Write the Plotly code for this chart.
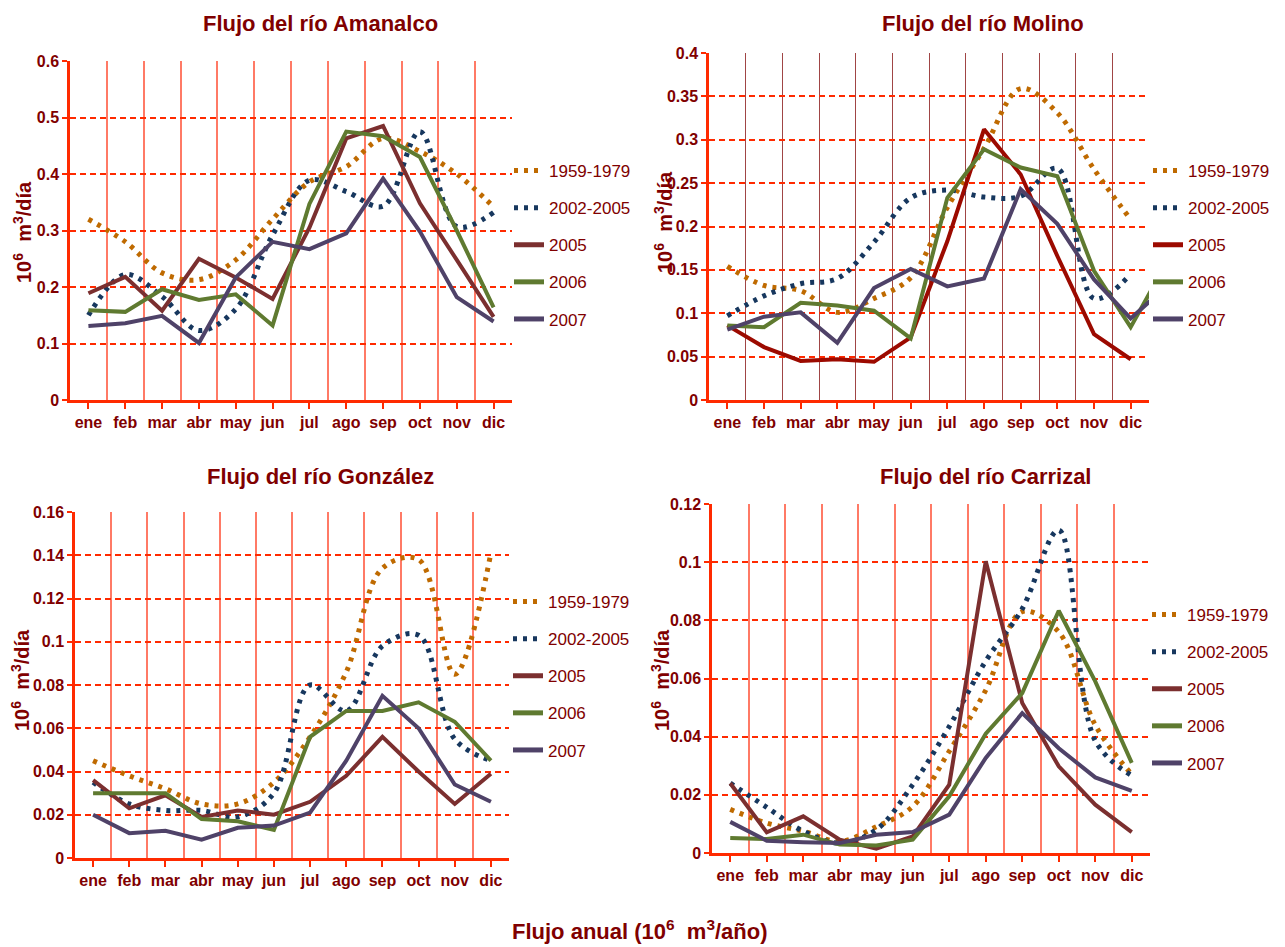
import plotly.graph_objects as go

W, H = 1285, 947

months = ["ene", "feb", "mar", "abr", "may", "jun", "jul", "ago", "sep", "oct", "nov", "dic"]
series_names = ["1959-1979", "2002-2005", "2005", "2006", "2007"]

# ---- Flujo del río Amanalco (10^6 m3/día) ----
amanalco_1959_1979 = [0.32, 0.28, 0.225, 0.213, 0.248, 0.32, 0.386, 0.413, 0.463, 0.44, 0.40, 0.342]
amanalco_2002_2005 = [0.15, 0.222, 0.183, 0.123, 0.161, 0.292, 0.389, 0.369, 0.343, 0.475, 0.307, 0.332]
amanalco_2005 = [0.189, 0.218, 0.158, 0.25, 0.217, 0.179, 0.305, 0.463, 0.485, 0.348, 0.248, 0.147]
amanalco_2006 = [0.159, 0.156, 0.196, 0.177, 0.187, 0.132, 0.347, 0.475, 0.467, 0.43, 0.30, 0.164]
amanalco_2007 = [0.131, 0.136, 0.149, 0.101, 0.217, 0.28, 0.267, 0.295, 0.392, 0.298, 0.182, 0.139]

# ---- Flujo del río Molino ----
molino_1959_1979 = [0.154, 0.132, 0.126, 0.101, 0.117, 0.141, 0.222, 0.29, 0.359, 0.331, 0.266, 0.208]
molino_2002_2005 = [0.097, 0.12, 0.134, 0.14, 0.182, 0.233, 0.242, 0.234, 0.235, 0.267, 0.117, 0.145]
molino_2005 = [0.086, 0.061, 0.045, 0.047, 0.044, 0.072, 0.183, 0.312, 0.26, 0.166, 0.076, 0.047]
molino_2006 = [0.086, 0.084, 0.112, 0.109, 0.103, 0.071, 0.233, 0.289, 0.268, 0.258, 0.149, 0.084, 0.16]
molino_2007 = [0.081, 0.096, 0.101, 0.066, 0.129, 0.151, 0.131, 0.14, 0.243, 0.203, 0.139, 0.094, 0.132]

# ---- Flujo del río González ----
gonzalez_1959_1979 = [0.045, 0.038, 0.032, 0.025, 0.025, 0.035, 0.056, 0.086, 0.134, 0.138, 0.085, 0.141]
gonzalez_2002_2005 = [0.035, 0.025, 0.022, 0.022, 0.019, 0.030, 0.080, 0.068, 0.098, 0.103, 0.055, 0.045]
gonzalez_2005 = [0.036, 0.023, 0.029, 0.019, 0.022, 0.020, 0.026, 0.038, 0.056, 0.040, 0.025, 0.039]
gonzalez_2006 = [0.030, 0.030, 0.030, 0.018, 0.017, 0.013, 0.056, 0.068, 0.068, 0.072, 0.063, 0.045]
gonzalez_2007 = [0.020, 0.0115, 0.0126, 0.0085, 0.014, 0.015, 0.021, 0.045, 0.075, 0.060, 0.034, 0.026]

# ---- Flujo del río Carrizal ----
carrizal_1959_1979 = [0.015, 0.0103, 0.0075, 0.004, 0.009, 0.016, 0.035, 0.056, 0.083, 0.076, 0.044, 0.027]
carrizal_2002_2005 = [0.024, 0.0157, 0.0075, 0.0034, 0.008, 0.0235, 0.0435, 0.066, 0.084, 0.111, 0.0386, 0.0266]
carrizal_2005 = [0.024, 0.0071, 0.0126, 0.0046, 0.0015, 0.0057, 0.0235, 0.1003, 0.0516, 0.0298, 0.0166, 0.0072]
carrizal_2006 = [0.0052, 0.0048, 0.0063, 0.0029, 0.0026, 0.0046, 0.0195, 0.041, 0.055, 0.0833, 0.059, 0.031]
carrizal_2007 = [0.0107, 0.0042, 0.0037, 0.0034, 0.0063, 0.0072, 0.0132, 0.0327, 0.0481, 0.036, 0.026, 0.0214]

titles = ["Flujo del río Amanalco", "Flujo del río Molino",
          "Flujo del río González", "Flujo del río Carrizal"]
panels = [
    [amanalco_1959_1979, amanalco_2002_2005, amanalco_2005, amanalco_2006, amanalco_2007],
    [molino_1959_1979, molino_2002_2005, molino_2005, molino_2006, molino_2007],
    [gonzalez_1959_1979, gonzalez_2002_2005, gonzalez_2005, gonzalez_2006, gonzalez_2007],
    [carrizal_1959_1979, carrizal_2002_2005, carrizal_2005, carrizal_2006, carrizal_2007],
]
y_max = [0.6, 0.4, 0.16, 0.12]
y_dtick = [0.1, 0.05, 0.02, 0.02]

# ---- styling ----
TXT = "#800000"
FONT = "Liberation Sans Narrow, Arial Narrow, Liberation Sans, Arial, sans-serif"
AXIS_RED = "#ff2a00"
colors = ["#bf6a00", "#17375e", "#7b2f2f", "#5f7a30", "#4f4268"]
molino_2005_color = "#9c0a00"

# pixel boxes of plot areas (left, right, top, bottom)
boxes = [(70, 512, 61, 400), (709, 1149, 53, 400), (75, 509, 512, 858), (712, 1150, 504, 853)]
legend_pos = [(509, 153), (1148, 153), (508, 584), (1147, 597)]
title_pos = [(320, 24), (983, 24), (320, 476), (985, 476)]
ylab_pos = [(22, 232), (664, 222), (20, 680), (660, 680)]

fig = go.Figure()

for p in range(4):
    ax = "" if p == 0 else str(p + 1)
    leg = "legend" if p == 0 else f"legend{p + 1}"
    for s, vals in enumerate(panels[p]):
        col = colors[s]
        if p == 1 and s == 2:
            col = molino_2005_color
        dotted = s < 2
        fig.add_trace(go.Scatter(
            x=list(range(len(vals))), y=vals, mode="lines", name=series_names[s],
            xaxis="x" + ax, yaxis="y" + ax, legend=leg, legendgroup=f"p{p}s{s}",
            line=dict(color=col, width=5 if dotted else 4,
                      dash="4px,6px" if dotted else "solid",
                      shape="spline" if dotted else "linear", smoothing=1.0),
            hoverinfo="skip",
        ))

layout = dict(
    width=W, height=H, margin=dict(l=0, r=0, t=0, b=0, autoexpand=False),
    paper_bgcolor="white", plot_bgcolor="rgba(0,0,0,0)",
    font=dict(family=FONT, color=TXT),
    showlegend=True,
)

annotations = []
for p in range(4):
    l, r, t, b = boxes[p]
    ax = "" if p == 0 else str(p + 1)
    vgrid = "#a04545" if p == 1 else "#ff7a66"
    layout["xaxis" + ax] = dict(
        domain=[l / W, r / W], anchor="y" + ax, range=[-0.5, 11.5],
        tickmode="array", tickvals=list(range(12)), ticktext=months,
        ticks="outside", ticklen=6, tickwidth=2, tickcolor=AXIS_RED,
        showline=True, linecolor=AXIS_RED, linewidth=3,
        showgrid=False, zeroline=False,
        tickfont=dict(family=FONT, size=16, color=TXT, weight="bold"),
        minor=dict(tickmode="linear", tick0=0.5, dtick=1, showgrid=True,
                   gridcolor=vgrid, gridwidth=1.2 if p == 1 else 1.5, ticks=""),
        fixedrange=True,
    )
    layout["yaxis" + ax] = dict(
        domain=[1 - b / H, 1 - t / H], anchor="x" + ax, range=[0, y_max[p]],
        dtick=y_dtick[p], tick0=0,
        ticks="outside", ticklen=5, tickwidth=2, tickcolor=AXIS_RED,
        showline=True, linecolor=AXIS_RED, linewidth=2.5,
        showgrid=True, gridcolor="#ff2a00", gridwidth=1.5, griddash="6px,4px",
        zeroline=False,
        tickfont=dict(family=FONT, size=16, color=TXT, weight="bold"),
        fixedrange=True,
    )
    lx, ly = legend_pos[p]
    layout["legend" if p == 0 else f"legend{p + 1}"] = dict(
        x=lx / W, y=1 - ly / H, xanchor="left", yanchor="top",
        bgcolor="rgba(0,0,0,0)", borderwidth=0,
        font=dict(family=FONT, size=17, color=TXT),
        traceorder="grouped", tracegroupgap=12, itemsizing="constant",
    )
    tx, ty = title_pos[p]
    annotations.append(dict(
        text=f"<b>{titles[p]}</b>", x=tx / W, y=1 - ty / H, xref="paper", yref="paper",
        xanchor="center", yanchor="middle", showarrow=False,
        font=dict(family=FONT, size=22, color=TXT),
    ))
    yx, yy = ylab_pos[p]
    annotations.append(dict(
        text="<b>10<sup>6</sup>  m<sup>3</sup>/día</b>", x=yx / W, y=1 - yy / H,
        xref="paper", yref="paper", xanchor="center", yanchor="middle",
        textangle=-90, showarrow=False,
        font=dict(family=FONT, size=20, color=TXT),
    ))

annotations.append(dict(
    text="<b>Flujo anual (10<sup>6</sup>  m<sup>3</sup>/año)</b>", x=640 / W, y=1 - 930 / H,
    xref="paper", yref="paper", xanchor="center", yanchor="middle", showarrow=False,
    font=dict(family=FONT, size=22, color=TXT),
))
layout["annotations"] = annotations

fig.update_layout(**layout)
fig.write_html("out.html")
